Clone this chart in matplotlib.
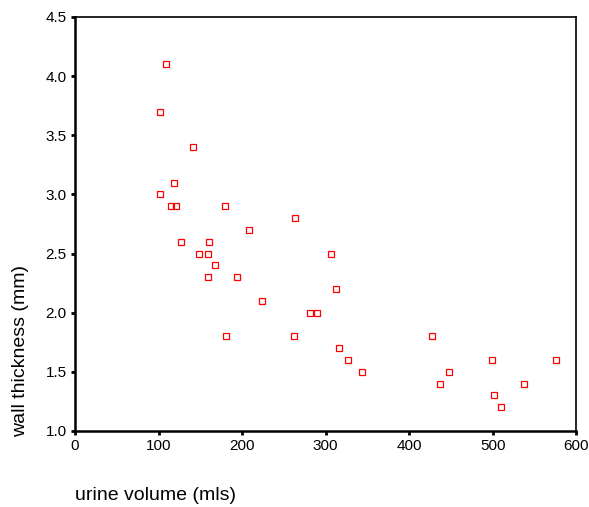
import matplotlib.pyplot as plt

plt.rcParams['font.family'] = ['Liberation Sans', 'DejaVu Sans']

# urine volume (mls) vs bladder wall thickness (mm)
volume = [109, 102, 141, 119, 102, 115, 121, 180, 263, 208,
          127, 160, 148, 159, 307, 168, 159, 194, 312, 224,
          281, 290, 181, 262, 427, 316, 327, 343, 499, 576,
          448, 437, 538, 501, 510]
thickness = [4.1, 3.7, 3.4, 3.1, 3.0, 2.9, 2.9, 2.9, 2.8, 2.7,
             2.6, 2.6, 2.5, 2.5, 2.5, 2.4, 2.3, 2.3, 2.2, 2.1,
             2.0, 2.0, 1.8, 1.8, 1.8, 1.7, 1.6, 1.5, 1.6, 1.6,
             1.5, 1.4, 1.4, 1.3, 1.2]
xticks = [0, 100, 200, 300, 400, 500, 600]
yticks = [1.0, 1.5, 2.0, 2.5, 3.0, 3.5, 4.0, 4.5]

fig = plt.figure(figsize=(5.89, 5.07), dpi=100)
ax = fig.add_axes([0.1273, 0.15, 0.851, 0.8165])

ax.plot(volume, thickness, "s", markerfacecolor='none', markeredgecolor='#ff0000',
        ms=5, mew=0.9, linestyle='none')

ax.set_xlim(0, 600)
ax.set_ylim(1.0, 4.5)
ax.set_xticks(xticks)
ax.set_yticks(yticks)
ax.set_yticklabels(["%.1f" % v for v in yticks])
ax.tick_params(labelsize=11, length=3, width=2, pad=3, color='black')

for s in ['left', 'bottom']:
    ax.spines[s].set_linewidth(1.8)
for s in ['top', 'right']:
    ax.spines[s].set_linewidth(1.2)

fig.text(0.1273, 0.006, "urine volume (mls)", fontsize=14, ha='left', va='bottom')
fig.text(0.02, 0.138, "wall thickness (mm)", fontsize=14, rotation=90,
         ha='left', va='bottom')

fig.savefig("out.png", dpi=100)
